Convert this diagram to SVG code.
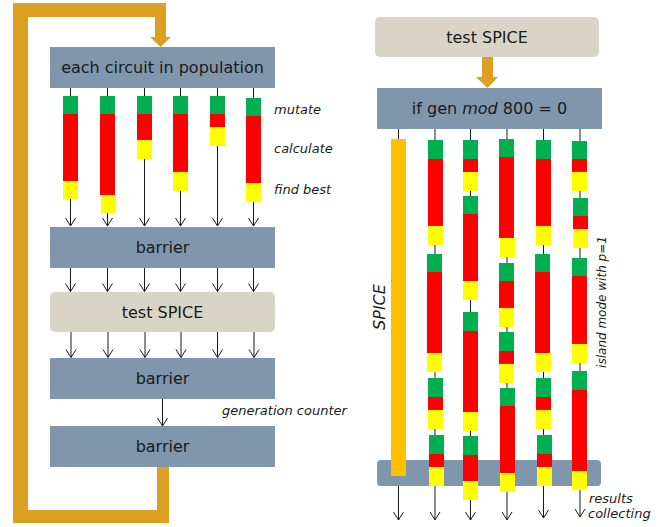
<svg xmlns="http://www.w3.org/2000/svg" width="667" height="527" viewBox="0 0 667 527">
  <style>
    .box { fill: #7f96ac; }
    .soft { fill: #d9d5c6; }
    .gold { fill: #dba021; }
    .lbl { font-family: "DejaVu Sans", "Liberation Sans", sans-serif; font-size: 16px; fill: #1a1a1a; text-anchor: middle; }
    .note { font-family: "DejaVu Sans", "Liberation Sans", sans-serif; font-size: 13px; font-style: italic; fill: #1a1a1a; }
    .wire { stroke: #1a1a1a; stroke-width: 1; fill: none; marker-end: url(#head); }
    .plain { stroke: #1a1a1a; stroke-width: 1; fill: none; }
    .g { fill: #00b050; }
    .r { fill: #ff0000; }
    .y { fill: #ffff00; }
  </style>
  <defs>
    <marker id="head" markerUnits="userSpaceOnUse" markerWidth="12" markerHeight="12" refX="0" refY="0" orient="auto" overflow="visible">
      <path d="M -8 -5 L 0 0 L -8 5" fill="none" stroke="#1a1a1a" stroke-width="1"/>
    </marker>
  </defs>

  <!-- generation loop (left) -->
  <g id="loop">
    <rect class="gold" x="13" y="3" width="153" height="14"/>
    <rect class="gold" x="13" y="3" width="15" height="520"/>
    <rect class="gold" x="155" y="3" width="11" height="35"/>
    <polygon class="gold" points="150,37 171,37 160.5,47"/>
    <rect class="gold" x="13" y="510" width="156" height="13"/>
    <rect class="gold" x="157" y="466" width="12" height="57"/>
  </g>

  <!-- connectors -->
  <g id="connectors">
    <!-- population to first barrier -->
    <line class="wire" x1="70.5" y1="88" x2="70.5" y2="226"/>
    <line class="wire" x1="107.5" y1="88" x2="107.5" y2="226"/>
    <line class="wire" x1="144.5" y1="88" x2="144.5" y2="226"/>
    <line class="wire" x1="180.5" y1="88" x2="180.5" y2="226"/>
    <line class="wire" x1="217.5" y1="88" x2="217.5" y2="226"/>
    <line class="wire" x1="253.5" y1="88" x2="253.5" y2="226"/>
    <!-- barrier to test SPICE -->
    <line class="wire" x1="70.5" y1="268" x2="70.5" y2="291.5"/>
    <line class="wire" x1="107.5" y1="268" x2="107.5" y2="291.5"/>
    <line class="wire" x1="144.5" y1="268" x2="144.5" y2="291.5"/>
    <line class="wire" x1="180.5" y1="268" x2="180.5" y2="291.5"/>
    <line class="wire" x1="217.5" y1="268" x2="217.5" y2="291.5"/>
    <line class="wire" x1="253.5" y1="268" x2="253.5" y2="291.5"/>
    <!-- test SPICE to barrier -->
    <line class="wire" x1="71" y1="332" x2="71" y2="357.5"/>
    <line class="wire" x1="108" y1="332" x2="108" y2="357.5"/>
    <line class="wire" x1="145" y1="332" x2="145" y2="357.5"/>
    <line class="wire" x1="181" y1="332" x2="181" y2="357.5"/>
    <line class="wire" x1="217.5" y1="332" x2="217.5" y2="357.5"/>
    <line class="wire" x1="254" y1="332" x2="254" y2="357.5"/>
    <!-- generation counter -->
    <line class="wire" x1="162.5" y1="399" x2="162.5" y2="426"/>

    <!-- right side threads -->
    <line class="plain" x1="398.5" y1="129" x2="398.5" y2="140"/>
    <line class="wire" x1="398.5" y1="476" x2="398.5" y2="520"/>
    <line class="wire" x1="435" y1="129" x2="435" y2="520"/>
    <line class="wire" x1="470.5" y1="129" x2="470.5" y2="520"/>
    <line class="wire" x1="507" y1="129" x2="507" y2="520"/>
    <line class="wire" x1="543.5" y1="129" x2="543.5" y2="518"/>
    <line class="wire" x1="580" y1="129" x2="580" y2="517"/>

    <!-- test SPICE to island check -->
    <rect class="gold" x="482" y="57" width="11" height="21"/>
    <polygon class="gold" points="476,77 498,77 487.5,88"/>
  </g>

  <!-- left column -->
  <g id="population">
    <rect class="box" x="50" y="47" width="225" height="41"/>
    <text class="lbl" x="162.5" y="73">each circuit in population</text>
  </g>

  <g id="work-left">
    <rect class="g" x="63" y="96" width="15" height="18"/><rect class="r" x="63" y="114" width="15" height="67"/><rect class="y" x="63" y="181" width="15" height="18"/>
    <rect class="g" x="100" y="96" width="15" height="18"/><rect class="r" x="100" y="114" width="15" height="81"/><rect class="y" x="101" y="195" width="15" height="18"/>
    <rect class="g" x="137" y="96" width="15" height="18"/><rect class="r" x="137" y="114" width="15" height="26"/><rect class="y" x="137" y="140" width="15" height="19"/>
    <rect class="g" x="173" y="96" width="15" height="18"/><rect class="r" x="173" y="114" width="15" height="58"/><rect class="y" x="173" y="172" width="15" height="19"/>
    <rect class="g" x="210" y="96" width="15" height="18"/><rect class="r" x="210" y="114" width="15" height="13"/><rect class="y" x="210" y="127" width="15" height="19"/>
    <rect class="g" x="246" y="98" width="15" height="18"/><rect class="r" x="246" y="116" width="15" height="67"/><rect class="y" x="246" y="183" width="15" height="19"/>
    <text class="note" x="274" y="114">mutate</text>
    <text class="note" x="274" y="153">calculate</text>
    <text class="note" x="274" y="194">find best</text>
  </g>

  <g id="barrier-1">
    <rect class="box" x="50" y="227" width="225" height="41"/>
    <text class="lbl" x="162.5" y="253">barrier</text>
  </g>

  <g id="test-spice-left">
    <rect class="soft" x="50" y="292" width="225" height="40" rx="5"/>
    <text class="lbl" x="162.5" y="318">test SPICE</text>
  </g>

  <g id="barrier-2">
    <rect class="box" x="50" y="358" width="225" height="41"/>
    <text class="lbl" x="162.5" y="384">barrier</text>
  </g>

  <g id="generation-counter">
    <text class="note" x="222" y="415">generation counter</text>
  </g>

  <g id="barrier-3">
    <rect class="box" x="50" y="426" width="225" height="41"/>
    <text class="lbl" x="162.5" y="452">barrier</text>
  </g>

  <!-- right column -->
  <g id="test-spice-right">
    <rect class="soft" x="375" y="17" width="224" height="40" rx="5"/>
    <text class="lbl" x="487" y="43">test SPICE</text>
  </g>

  <g id="island-check">
    <rect class="box" x="377" y="88" width="225" height="41"/>
    <text class="lbl" x="489.5" y="114">if gen <tspan font-style="italic">mod</tspan> 800 = 0</text>
  </g>

  <g id="results-barrier">
    <rect class="box" x="377" y="460" width="224" height="26" rx="4"/>
  </g>

  <g id="spice-thread">
    <rect x="391" y="139" width="15" height="337" fill="#ffc000"/>
    <text class="note" style="font-size:16px" text-anchor="middle" transform="translate(385,307) rotate(-90)">SPICE</text>
  </g>

  <g id="work-right">
    <!-- thread 1 -->
    <rect class="g" x="428" y="140" width="15" height="19"/><rect class="r" x="428" y="159" width="15" height="67"/><rect class="y" x="428" y="226" width="15" height="19"/>
    <rect class="g" x="427" y="254" width="15" height="18"/><rect class="r" x="427" y="272" width="15" height="81"/><rect class="y" x="427" y="353" width="15" height="19"/>
    <rect class="g" x="428" y="378" width="15" height="19"/><rect class="r" x="428" y="397" width="15" height="13"/><rect class="y" x="428" y="410" width="15" height="19"/>
    <rect class="g" x="429" y="435" width="15" height="19"/><rect class="r" x="429" y="454" width="15" height="13"/><rect class="y" x="429" y="467" width="15" height="19"/>
    <!-- thread 2 -->
    <rect class="g" x="463" y="140" width="15" height="19"/><rect class="r" x="463" y="159" width="15" height="13"/><rect class="y" x="463" y="172" width="15" height="19"/>
    <rect class="g" x="463" y="196" width="15" height="18"/><rect class="r" x="463" y="214" width="15" height="67"/><rect class="y" x="463" y="281" width="15" height="19"/>
    <rect class="g" x="463" y="312" width="15" height="19"/><rect class="r" x="463" y="331" width="15" height="81"/><rect class="y" x="463" y="412" width="15" height="19"/>
    <rect class="g" x="463" y="436" width="15" height="19"/><rect class="r" x="463" y="455" width="15" height="26"/><rect class="y" x="463" y="481" width="15" height="19"/>
    <!-- thread 3 -->
    <rect class="g" x="499" y="139" width="15" height="18"/><rect class="r" x="499" y="157" width="15" height="81"/><rect class="y" x="500" y="238" width="15" height="19"/>
    <rect class="g" x="499" y="263" width="15" height="18"/><rect class="r" x="499" y="281" width="15" height="27"/><rect class="y" x="499" y="308" width="15" height="19"/>
    <rect class="g" x="499" y="332" width="15" height="19"/><rect class="r" x="499" y="351" width="15" height="13"/><rect class="y" x="499" y="364" width="15" height="19"/>
    <rect class="g" x="500" y="388" width="15" height="18"/><rect class="r" x="500" y="406" width="15" height="67"/><rect class="y" x="500" y="473" width="15" height="19"/>
    <!-- thread 4 -->
    <rect class="g" x="536" y="140" width="15" height="19"/><rect class="r" x="536" y="159" width="15" height="67"/><rect class="y" x="536" y="226" width="15" height="19"/>
    <rect class="g" x="535" y="254" width="15" height="18"/><rect class="r" x="535" y="272" width="15" height="81"/><rect class="y" x="536" y="353" width="15" height="19"/>
    <rect class="g" x="536" y="378" width="15" height="19"/><rect class="r" x="536" y="397" width="15" height="13"/><rect class="y" x="536" y="410" width="15" height="19"/>
    <rect class="g" x="537" y="435" width="15" height="19"/><rect class="r" x="537" y="454" width="15" height="13"/><rect class="y" x="537" y="467" width="15" height="19"/>
    <!-- thread 5 -->
    <rect class="g" x="572" y="141" width="15" height="18"/><rect class="r" x="572" y="159" width="15" height="13"/><rect class="y" x="572" y="172" width="15" height="19"/>
    <rect class="g" x="573" y="198" width="15" height="18"/><rect class="r" x="573" y="216" width="15" height="13"/><rect class="y" x="573" y="229" width="15" height="19"/>
    <rect class="g" x="572" y="258" width="15" height="18"/><rect class="r" x="572" y="276" width="15" height="68"/><rect class="y" x="572" y="344" width="15" height="19"/>
    <rect class="g" x="572" y="371" width="15" height="19"/><rect class="r" x="572" y="390" width="15" height="81"/><rect class="y" x="572" y="471" width="15" height="19"/>
  </g>

  <g id="island-note">
    <text class="note" style="font-size:12px" text-anchor="middle" transform="translate(606,302) rotate(-90)">island mode with <tspan>p</tspan>=1</text>
  </g>

  <g id="results-note">
    <text class="note" x="589" y="503">results</text>
    <text class="note" x="588" y="518">collecting</text>
  </g>
</svg>
